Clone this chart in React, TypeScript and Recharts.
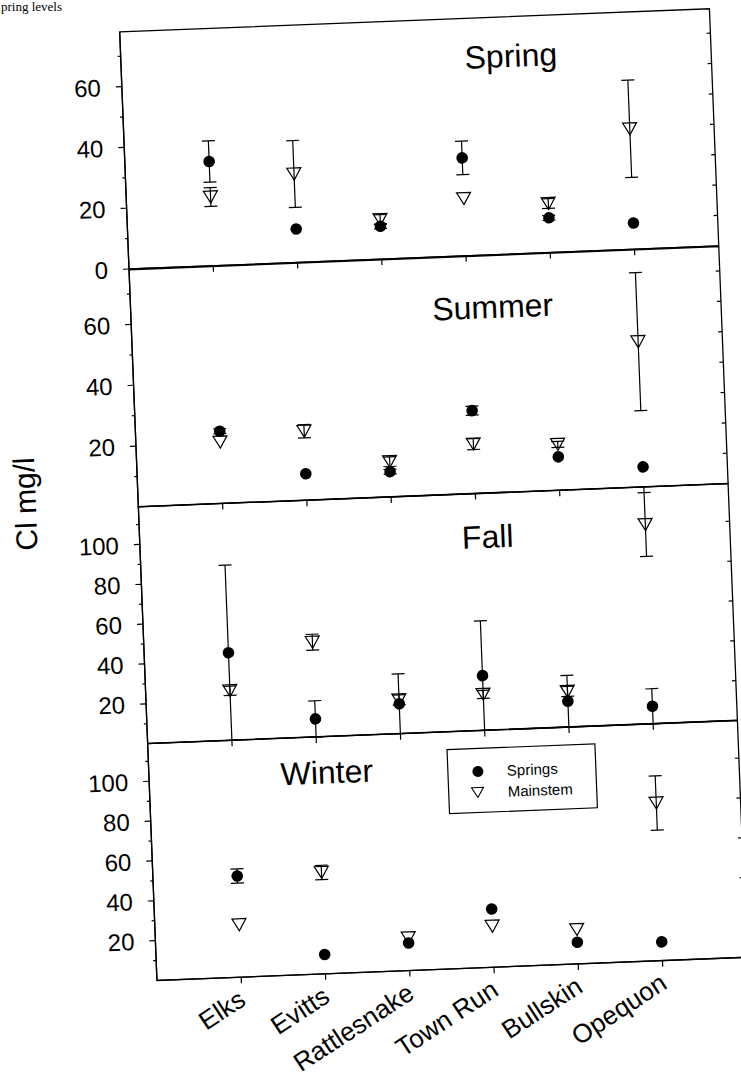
import React from 'react';
import { ScatterChart, Scatter, XAxis, YAxis, ErrorBar, Legend, ReferenceArea } from 'recharts';

const categories = ['Elks', 'Evitts', 'Rattlesnake', 'Town Run', 'Bullskin', 'Opequon'];
const seriesNames = ['Springs', 'Mainstem'];
const seasons = ['Spring', 'Summer', 'Fall', 'Winter'];

// Spring
const springSprings = [34.3, 11.0, 10.8, 32.2, 11.4, 8.6];
const springSpringsErr = [6.8, 0, 0.8, 5.5, 0.8, 0];
const springMainstem = [22.6, 29.1, 13.0, 18.8, 16.1, 39.6];
const springMainstemErr = [3.1, 11.0, 1.6, 0, 1.6, 16.0];
// Summer
const summerSprings = [23.8, 8.7, 8.3, 27.3, 11.0, 6.6];
const summerSpringsErr = [0.8, 0, 0.8, 1.5, 0, 0];
const summerMainstem = [20.2, 22.7, 11.6, 16.3, 15.1, 47.8];
const summerMainstemErr = [0, 2.2, 1.6, 1.8, 1.0, 22.7];
// Fall
const fallSprings = [44.0, 9.1, 15.0, 27.5, 13.0, 8.8];
const fallSpringsErr = [44.0, 9.1, 15.0, 27.5, 13.0, 8.8];
const fallMainstem = [24.9, 47.6, 17.0, 18.1, 17.9, 100.0];
const fallMainstemErr = [2.3, 4.0, 2.5, 2.0, 2.5, 16.0];
// Winter
const winterSprings = [50.8, 9.7, 13.8, 29.2, 10.9, 9.4];
const winterSpringsErr = [3.6, 0, 0, 0, 0, 0];
const winterMainstem = [26.3, 50.9, 16.4, 20.6, 17.2, 79.1];
const winterMainstemErr = [0, 3.6, 0, 0, 0, 13.6];

const lowDomain = [0, 78];
const highDomain = [0, 119];
const lowTicks = [0, 10, 20, 30, 40, 50, 60, 70];
const summerTicks = [10, 20, 30, 40, 50, 60, 70];
const highTicks = [10, 20, 30, 40, 50, 60, 70, 80, 90, 100, 110];
const xTicks = [0, 1, 2, 3, 4, 5];
const xDomain = [-1, 6];

const T0 = 20.25;
const H = 237.25;
const L = 138.1;
const R = 728.3;
const MT = 20;
const FONT = '"Liberation Sans", Arial, sans-serif';

const toRows = (vals: number[], errs: number[]) =>
  vals.map((v, i) => ({ x: i, y: v, err: errs[i] }));

const CircleShape = (p: any) => <circle cx={p.cx} cy={p.cy} r={5.8} fill="#000" />;
const TriShape = (p: any) => (
  <polygon
    points={`${p.cx - 7},${p.cy - 6} ${p.cx + 7},${p.cy - 6} ${p.cx},${p.cy + 6}`}
    fill="none"
    stroke="#000"
    strokeWidth={1.2}
  />
);

const makeYTick = (rightStep: number) => (props: any) => {
  const { y, payload } = props;
  const v = payload.value;
  const major = v % 20 === 0;
  return (
    <g>
      <line x1={L - (major ? 6 : 3)} x2={L} y1={y} y2={y} stroke="#000" strokeWidth={1.2} />
      {v % rightStep === 0 && (
        <line x1={R - 4} x2={R} y1={y} y2={y} stroke="#000" strokeWidth={1.2} />
      )}
      {major && (
        <text x={L - 21} y={y} dy="0.36em" textAnchor="end" fontSize={24} fontFamily={FONT} fill="#000">
          {v}
        </text>
      )}
    </g>
  );
};

const EmptyTick = () => <g />;

const XLabelTick = (props: any) => {
  const { x, payload } = props;
  const ay = MT + H;
  const tx = x + 5;
  const ty = ay + 27;
  return (
    <text
      x={tx}
      y={ty}
      transform={`rotate(-31, ${tx}, ${ty})`}
      textAnchor="end"
      fontSize={26}
      fontFamily={FONT}
      fill="#000"
    >
      {categories[payload.value]}
    </text>
  );
};

const LegendBox = () => (
  <svg width={148} height={64} style={{ display: 'block', overflow: 'visible' }}>
    <rect x={0} y={0} width={148} height={64} fill="#fff" stroke="#000" strokeWidth={1.2} />
    <circle cx={30} cy={23} r={5.5} fill="#000" />
    <polygon points={`${29 - 6},${44 - 5} ${29 + 6},${44 - 5} ${29},${44 + 5}`} fill="none" stroke="#000" strokeWidth={1.1} />
    <text x={59} y={23} dy="0.36em" fontSize={15} fontFamily={FONT} fill="#000">{seriesNames[0]}</text>
    <text x={59} y={44} dy="0.36em" fontSize={15} fontFamily={FONT} fill="#000">{seriesNames[1]}</text>
  </svg>
);

type PanelProps = {
  index: number;
  domain: number[];
  ticks: number[];
  rightStep: number;
  springs: number[];
  springsErr: number[];
  mainstem: number[];
  mainstemErr: number[];
  bottom?: boolean;
};

const Panel = ({ index, domain, ticks, rightStep, springs, springsErr, mainstem, mainstemErr, bottom }: PanelProps) => {
  const xh = bottom ? 120 : 1;
  const mb = bottom ? 10 : 19;
  const height = MT + H + xh + mb;
  const top = T0 + index * H - MT;
  return (
    <div style={{ position: 'absolute', left: 0, top }}>
      <ScatterChart width={741} height={height} margin={{ top: MT, right: 741 - R, bottom: mb, left: 0 }}>
        <XAxis
          type="number"
          dataKey="x"
          domain={xDomain}
          ticks={xTicks}
          interval={0}
          height={xh}
          tickSize={6}
          tickLine={{ stroke: '#000', strokeWidth: 1.2 }}
          axisLine={{ stroke: '#000', strokeWidth: 1.3 }}
          tick={bottom ? XLabelTick : EmptyTick}
        />
        <YAxis
          type="number"
          dataKey="y"
          domain={domain}
          ticks={ticks}
          interval={0}
          allowDataOverflow
          width={L}
          tickLine={false}
          axisLine={{ stroke: '#000', strokeWidth: 1.3 }}
          tick={makeYTick(rightStep)}
        />
        <ReferenceArea
          x1={xDomain[0]}
          x2={xDomain[1]}
          y1={domain[0]}
          y2={domain[1]}
          fill="none"
          stroke="#000"
          strokeWidth={1.3}
          ifOverflow="visible"
        />
        <Scatter
          name={seriesNames[0]}
          data={toRows(springs, springsErr)}
          shape={CircleShape}
          fill="#000"
          isAnimationActive={false}
        >
          <ErrorBar dataKey="err" direction="y" width={6.5} stroke="#000" strokeWidth={1.2} isAnimationActive={false} />
        </Scatter>
        <Scatter
          name={seriesNames[1]}
          data={toRows(mainstem, mainstemErr)}
          shape={TriShape}
          fill="none"
          isAnimationActive={false}
        >
          <ErrorBar dataKey="err" direction="y" width={6.5} stroke="#000" strokeWidth={1.2} isAnimationActive={false} />
        </Scatter>
        {bottom && (
          <Legend
            layout="vertical"
            align="center"
            verticalAlign="middle"
            width={148}
            height={64}
            wrapperStyle={{ left: L + 299, top: MT + 18, width: 148, height: 64 }}
            content={() => <LegendBox />}
          />
        )}
      </ScatterChart>
    </div>
  );
};

const titlePos = [
  { x: 528, y: T0 + 50 },
  { x: 500, y: T0 + H + 63 },
  { x: 486, y: T0 + 2 * H + 55 },
  { x: 316, y: T0 + 3 * H + 47 },
];

export default function App() {
  return (
    <div style={{ position: 'absolute', left: 0, top: 0, width: 741, height: 1078, overflow: 'hidden', background: '#fff' }}>
      <div
        style={{
          position: 'absolute',
          left: 1,
          top: 0,
          fontFamily: '"Liberation Serif", "DejaVu Serif", serif',
          fontSize: 13,
          lineHeight: '13px',
          whiteSpace: 'nowrap',
          color: '#000',
        }}
      >
        pring levels
      </div>
      <div
        style={{
          position: 'absolute',
          left: 0,
          top: 0,
          width: 741,
          height: 1078,
          transform: 'rotate(-2.25deg)',
          transformOrigin: '433.2px 494.75px',
        }}
      >
        <Panel index={0} domain={lowDomain} ticks={lowTicks} rightStep={10}
          springs={springSprings} springsErr={springSpringsErr} mainstem={springMainstem} mainstemErr={springMainstemErr} />
        <Panel index={1} domain={lowDomain} ticks={summerTicks} rightStep={10}
          springs={summerSprings} springsErr={summerSpringsErr} mainstem={summerMainstem} mainstemErr={summerMainstemErr} />
        <Panel index={2} domain={highDomain} ticks={highTicks} rightStep={20}
          springs={fallSprings} springsErr={fallSpringsErr} mainstem={fallMainstem} mainstemErr={fallMainstemErr} />
        <Panel index={3} domain={highDomain} ticks={highTicks} rightStep={20}
          springs={winterSprings} springsErr={winterSpringsErr} mainstem={winterMainstem} mainstemErr={winterMainstemErr} bottom />
        <svg width={741} height={1078} style={{ position: 'absolute', left: 0, top: 0, pointerEvents: 'none' }}>
          {seasons.map((s, i) => (
            <text key={s} x={titlePos[i].x} y={titlePos[i].y} textAnchor="middle" fontSize={32} fontFamily={FONT} fill="#000">
              {s}
            </text>
          ))}
          <text x={24.9} y={488} transform="rotate(-90, 24.9, 488)" dy="0.36em" textAnchor="middle" fontSize={30} fontFamily={FONT} fill="#000">
            Cl mg/l
          </text>
        </svg>
      </div>
    </div>
  );
}
